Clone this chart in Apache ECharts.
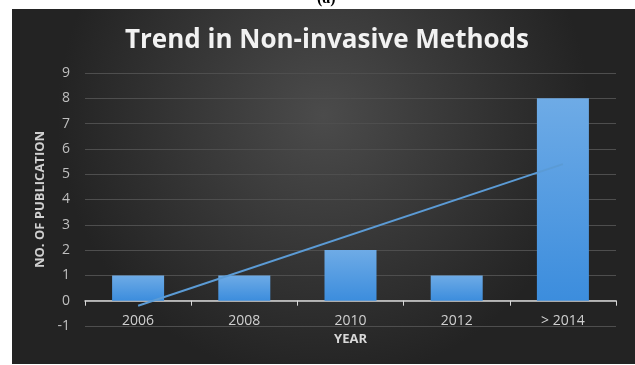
<!DOCTYPE html>
<html>
<head>
<meta charset="utf-8">
<script src="https://cdn.jsdelivr.net/npm/echarts@6/dist/echarts.min.js"></script>
<style>
  html, body { margin: 0; padding: 0; background: #fff; }
  #chart { width: 635px; height: 365px; }
</style>
</head>
<body>
<div id="chart"></div>
<script>
// data
const years = ['2006', '2008', '2010', '2012', '> 2014'];
const publications = [1, 1, 2, 1, 8];
// linear trend line, only its two ends are drawn
const trendEnds = [-0.2, null, null, null, 5.4];
const yTicks = { min: -1, max: 9, step: 1 };

const chart = echarts.init(document.getElementById('chart'));

chart.setOption({
  animation: false,
  graphic: [
    {
      type: 'rect',
      silent: true,
      z: -10,
      shape: { x: 12, y: 9, width: 623, height: 355 },
      style: {
        fill: {
          type: 'radial', x: 0.5, y: 0.3, r: 0.75,
          colorStops: [
            { offset: 0, color: '#4b4b4b' },
            { offset: 1, color: '#232323' }
          ]
        }
      }
    },
    {
      type: 'text',
      left: 317,
      top: -9,
      style: { text: '(a)', font: 'bold 16px "Liberation Serif"', fill: '#000' }
    }
  ],
  title: {
    text: 'Trend in Non-invasive Methods',
    left: 322,
    textAlign: 'center',
    top: 23,
    textStyle: {
      color: '#f2f2f2',
      fontFamily: 'Open Sans',
      fontWeight: 'bold',
      fontSize: 26
    }
  },
  grid: { left: 85, right: 19, top: 73, bottom: 39, outerBoundsMode: 'none' },
  xAxis: {
    type: 'category',
    data: years,
    name: 'YEAR',
    nameLocation: 'middle',
    nameGap: 7,
    nameTextStyle: { color: '#d9d9d9', fontFamily: 'Open Sans', fontWeight: 'bold', fontSize: 13 },
    axisLine: { lineStyle: { color: '#d9d9d9', width: 1.5 } },
    axisTick: { show: true, length: 5, lineStyle: { color: '#d9d9d9' } },
    axisLabel: { color: '#d0d0d0', fontFamily: 'Open Sans', fontSize: 14, margin: -12 }
  },
  yAxis: {
    type: 'value',
    min: yTicks.min,
    max: yTicks.max,
    interval: yTicks.step,
    name: 'NO. OF PUBLICATION',
    nameLocation: 'middle',
    nameGap: 38,
    nameTextStyle: { color: '#d0d0d0', fontFamily: 'Open Sans', fontWeight: 'bold', fontSize: 13 },
    axisLine: { show: false },
    axisTick: { show: false },
    axisLabel: { color: '#bfbfbf', fontFamily: 'Open Sans', fontSize: 14, margin: 15 },
    splitLine: { lineStyle: { color: '#4e4e4e', width: 1 } }
  },
  series: [
    {
      type: 'bar',
      data: publications,
      barWidth: 52,
      itemStyle: {
        color: {
          type: 'linear', x: 0, y: 0, x2: 0, y2: 1,
          colorStops: [
            { offset: 0, color: '#6eabe6' },
            { offset: 1, color: '#3c8ddd' }
          ]
        }
      }
    },
    {
      type: 'line',
      data: trendEnds,
      connectNulls: true,
      symbol: 'none',
      z: 5,
      lineStyle: { color: '#5b9bd5', width: 2 }
    }
  ]
});
</script>
</body>
</html>
